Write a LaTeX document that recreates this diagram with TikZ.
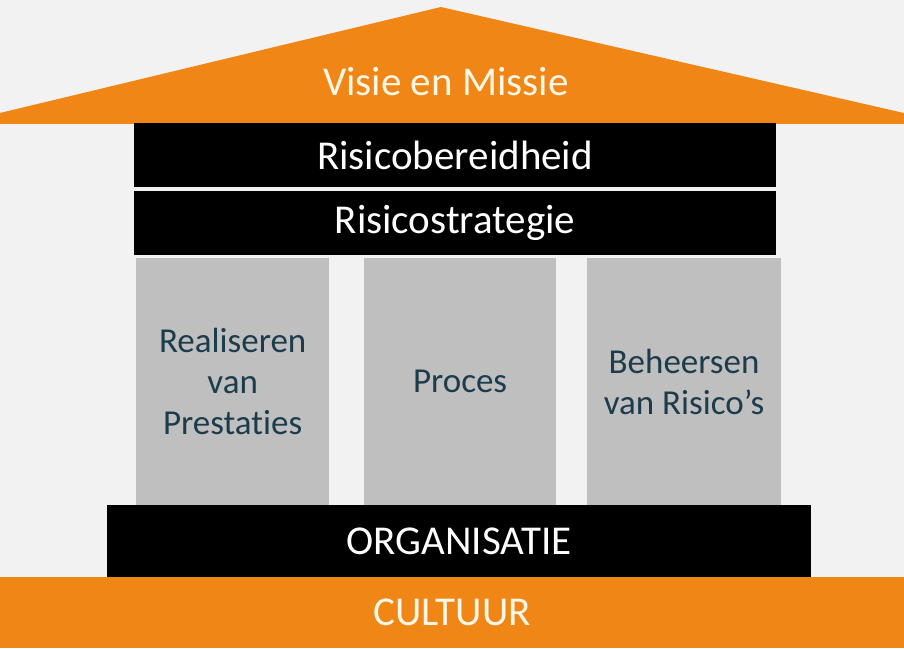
\documentclass[tikz,border=0pt]{standalone}
\usepackage{fontspec}
\setmainfont{Carlito}[Ligatures=NoCommon]
\definecolor{huisoranje}{RGB}{239,134,22}
\definecolor{achtergrond}{RGB}{242,242,242}
\definecolor{pijlergrijs}{RGB}{191,191,191}
\definecolor{pijlertekst}{RGB}{28,60,76}
\definecolor{roomwit}{RGB}{255,248,232}
\begin{document}
\begin{tikzpicture}[x=1pt, y=-1pt,
  every node/.style = {inner sep=0pt, align=center},
  balk/.style = {fill=black, text=white, anchor=north west,
    font=\fontsize{41}{49}\selectfont},
  pijler/.style = {fill=pijlergrijs, text=pijlertekst, anchor=north west,
    minimum height=247pt, font=\fontsize{35}{41}\selectfont},
  oranje/.style = {fill=huisoranje, text=roomwit,
    font=\fontsize{41}{49}\selectfont}]
  \fill[achtergrond] (0,0) rectangle (904,648);
  % dak
  \fill[huisoranje] (0,113) -- (441,7) -- (904,113) -- (904,124) -- (0,124) -- cycle;
  \node[text=roomwit, font=\fontsize{41}{49}\selectfont] (visie) at (446,82) {Visie en Missie};
  % balken
  \node[balk, minimum width=642pt, minimum height=64pt] (bereid) at (134,123) {Risicobereidheid};
  \node[balk, minimum width=642pt, minimum height=64pt] (strategie) at (134,191) {Risicostrategie};
  % pijlers
  \node[pijler, minimum width=193pt] (realiseren) at (136,258) {Realiseren\\van\\Prestaties};
  \node[pijler, minimum width=192pt] (proces) at (364,258) {Proces};
  \node[pijler, minimum width=194pt] (beheersen) at (587,258) {Beheersen\\van Risico’s};
  % fundament
  \node[balk, minimum width=704pt, minimum height=72pt] (organisatie) at (107,505) {ORGANISATIE};
  \node[oranje, anchor=north west, minimum width=904pt, minimum height=71pt] (cultuur) at (0,577) {CULTUUR};
\end{tikzpicture}
\end{document}
